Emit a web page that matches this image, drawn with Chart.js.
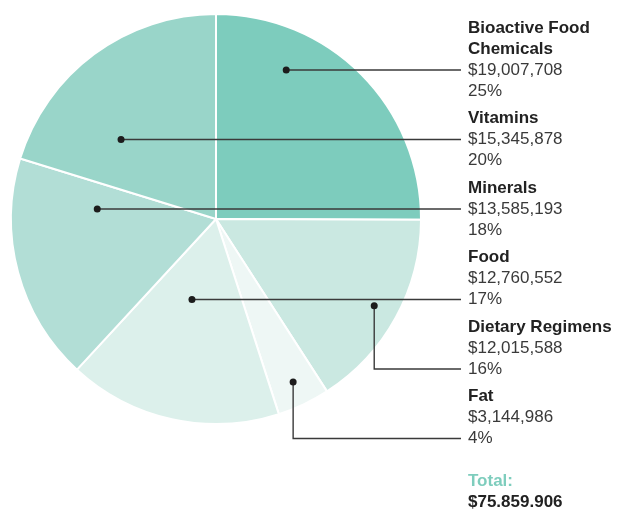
<!DOCTYPE html>
<html>
<head>
<meta charset="utf-8">
<script src="https://cdn.jsdelivr.net/npm/chart.js@4.4.1/dist/chart.umd.min.js"></script>
<style>
  html, body { margin: 0; padding: 0; background: #fff; }
  #wrap { position: relative; width: 617px; height: 509px; }
</style>
</head>
<body>
<div id="wrap"><canvas id="pie"></canvas></div>
<script>
// slices, clockwise from 12 o'clock
const categories = ['Bioactive Food Chemicals', 'Dietary Regimens', 'Fat', 'Food', 'Minerals', 'Vitamins'];
const amounts = [19007708, 12015588, 3144986, 12760552, 13585193, 15345878];
const sliceColors = ['#7dccbd', '#cae8e1', '#eef7f5', '#dcf0eb', '#b2ded6', '#99d5c9'];
// order of the label column on the right
const labelOrder = ['Bioactive Food Chemicals', 'Vitamins', 'Minerals', 'Food', 'Dietary Regimens', 'Fat'];
const totalTitle = 'Total:';
const totalText = '$75.859.906';

function wrapText(ctx, text, maxWidth) {
    const words = text.split(' ');
    const lines = [];
    let cur = '';
    words.forEach(w => {
        const test = cur ? cur + ' ' + w : w;
        if (cur && ctx.measureText(test).width > maxWidth) {
            lines.push(cur);
            cur = w;
        } else {
            cur = test;
        }
    });
    if (cur) lines.push(cur);
    return lines;
}

function inSlice(p, x, y) {
    const span = p.endAngle - p.startAngle;
    let a = Math.atan2(y - p.y, x - p.x) - p.startAngle;
    a = ((a % (2 * Math.PI)) + 2 * Math.PI) % (2 * Math.PI);
    return a <= span;
}

// horizontal extent of a slice at height y
function chordAt(p, y) {
    const dy = y - p.y;
    if (Math.abs(dy) >= p.outerRadius) return null;
    const w = Math.sqrt(p.outerRadius * p.outerRadius - dy * dy);
    let lo = null, hi = null;
    for (let x = p.x - w; x <= p.x + w; x += 1) {
        if (inSlice(p, x, y)) {
            if (lo === null) lo = x;
            hi = x;
        }
    }
    return lo === null ? null : [lo, hi];
}

const calloutPlugin = {
    id: 'callouts',
    afterDatasetsDraw(chart, args, opts) {
        const ctx = chart.ctx;
        const meta = chart.getDatasetMeta(0);
        const total = amounts.reduce((a, b) => a + b, 0);
        let y = opts.top;
        ctx.save();
        ctx.textAlign = 'left';
        ctx.textBaseline = 'middle';
        labelOrder.forEach(name => {
            const i = categories.indexOf(name);
            const p = meta.data[i].getProps(['x', 'y', 'startAngle', 'endAngle', 'outerRadius'], true);
            ctx.font = opts.boldFont;
            const nameLines = wrapText(ctx, name, chart.width - opts.textX);
            const lines = nameLines.map(t => ({ t, font: opts.boldFont, color: opts.nameColor }));
            lines.push({ t: '$' + amounts[i].toLocaleString('en-US'), font: opts.font, color: opts.textColor });
            lines.push({ t: Math.round(amounts[i] / total * 100) + '%', font: opts.font, color: opts.textColor });
            const ys = lines.map((l, j) => y + j * opts.lineHeight);

            // leader line: value row above the centre, percent row below
            const valueY = ys[nameLines.length];
            const pctY = ys[nameLines.length + 1];
            const leadY = valueY < p.y ? valueY : pctY;
            const chord = chordAt(p, leadY);
            let dot;
            if (chord && chord[1] - chord[0] >= opts.minChord) {
                dot = { x: (chord[0] + chord[1]) / 2, y: leadY };
            } else {
                const mid = (p.startAngle + p.endAngle) / 2;
                const r = p.outerRadius * opts.dotRadiusFrac;
                dot = { x: p.x + Math.cos(mid) * r, y: p.y + Math.sin(mid) * r };
            }
            ctx.strokeStyle = opts.lineColor;
            ctx.lineWidth = opts.lineWidth;
            ctx.beginPath();
            ctx.moveTo(dot.x, dot.y);
            ctx.lineTo(dot.x, leadY);
            ctx.lineTo(opts.lineEnd, leadY);
            ctx.stroke();
            ctx.fillStyle = opts.dotColor;
            ctx.beginPath();
            ctx.arc(dot.x, dot.y, opts.dotSize, 0, Math.PI * 2);
            ctx.fill();

            lines.forEach((l, j) => {
                ctx.font = l.font;
                ctx.fillStyle = l.color;
                ctx.fillText(l.t, opts.textX, ys[j]);
            });
            y = ys[ys.length - 1] + opts.blockGap;
        });

        // total
        const ty = y - opts.blockGap + opts.totalGap;
        ctx.font = opts.boldFont;
        ctx.fillStyle = opts.totalColor;
        ctx.fillText(totalTitle, opts.textX, ty);
        ctx.fillStyle = opts.nameColor;
        ctx.fillText(totalText, opts.textX, ty + opts.lineHeight);
        ctx.restore();
    }
};

new Chart(document.getElementById('pie'), {
    type: 'pie',
    data: {
        labels: categories,
        datasets: [{
            data: amounts,
            backgroundColor: sliceColors,
            borderColor: '#ffffff',
            borderWidth: 2
        }]
    },
    options: {
        responsive: true,
        maintainAspectRatio: false,
        animation: false,
        events: [],
        layout: { padding: { left: 10, right: 195, top: 13, bottom: 84 } },
        plugins: {
            legend: { display: false },
            tooltip: { enabled: false },
            callouts: {
                top: 28,
                lineHeight: 21,
                blockGap: 27.5,
                totalGap: 42.5,
                textX: 468,
                lineEnd: 461,
                minChord: 60,
                dotRadiusFrac: 0.88,
                dotSize: 3.5,
                dotColor: '#1c1c1c',
                lineColor: '#3a3a3a',
                lineWidth: 1.4,
                font: '17px "Liberation Sans", Arial, sans-serif',
                boldFont: 'bold 17px "Liberation Sans", Arial, sans-serif',
                nameColor: '#222222',
                textColor: '#3a3a3a',
                totalColor: '#7ecdbd'
            }
        }
    },
    plugins: [calloutPlugin]
});
</script>
</body>
</html>
